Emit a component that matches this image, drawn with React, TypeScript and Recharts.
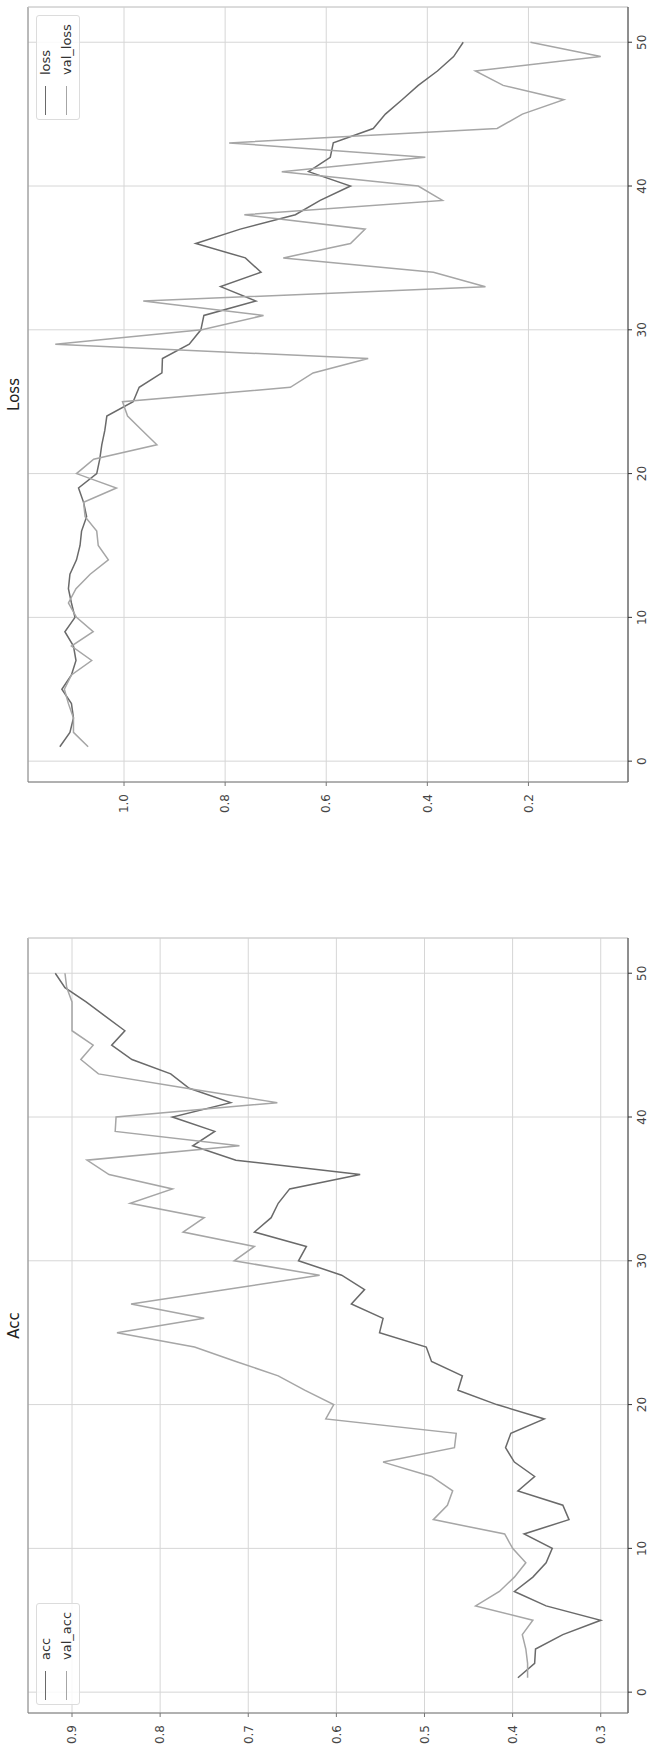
import React from 'react';
import { LineChart, Line, XAxis, YAxis, CartesianGrid, ReferenceLine } from 'recharts';

// training history, epochs 1..50
const epochTicks = [0, 10, 20, 30, 40, 50];
const accTicks = [0.3, 0.4, 0.5, 0.6, 0.7, 0.8, 0.9];
const lossTicks = [0.2, 0.4, 0.6, 0.8, 1.0];

const acc = [
  0.394, 0.375, 0.374, 0.343, 0.3, 0.362, 0.398, 0.377, 0.362, 0.355,
  0.387, 0.336, 0.343, 0.394, 0.375, 0.398, 0.408, 0.402, 0.364, 0.418,
  0.462, 0.457, 0.492, 0.498, 0.551, 0.547, 0.583, 0.568, 0.594, 0.643,
  0.634, 0.693, 0.674, 0.666, 0.653, 0.573, 0.714, 0.763, 0.738, 0.786,
  0.72, 0.767, 0.788, 0.832, 0.855, 0.84, 0.862, 0.884, 0.908, 0.919,
];
const valAcc = [
  0.383, 0.383, 0.385, 0.389, 0.377, 0.442, 0.415, 0.398, 0.385, 0.4,
  0.409, 0.49, 0.474, 0.468, 0.492, 0.547, 0.466, 0.464, 0.612, 0.603,
  0.636, 0.666, 0.714, 0.761, 0.849, 0.75, 0.833, 0.725, 0.619, 0.716,
  0.693, 0.774, 0.75, 0.834, 0.786, 0.858, 0.883, 0.71, 0.851, 0.85,
  0.667, 0.77, 0.87, 0.89, 0.876, 0.9, 0.9, 0.9, 0.906, 0.908,
];
const loss = [
  1.127, 1.107, 1.1, 1.104, 1.123, 1.104, 1.095, 1.1, 1.117, 1.097,
  1.104, 1.11, 1.107, 1.094, 1.087, 1.084, 1.074, 1.08, 1.09, 1.054,
  1.048, 1.044, 1.038, 1.034, 0.982, 0.97, 0.925, 0.924, 0.871, 0.848,
  0.842, 0.739, 0.809, 0.729, 0.76, 0.858, 0.77, 0.661, 0.612, 0.552,
  0.635, 0.592, 0.586, 0.507, 0.483, 0.45, 0.418, 0.38, 0.348, 0.329,
];
const valLoss = [
  1.071, 1.1, 1.1, 1.11, 1.118, 1.104, 1.064, 1.104, 1.061, 1.094,
  1.11, 1.095, 1.067, 1.031, 1.051, 1.054, 1.077, 1.08, 1.015, 1.094,
  1.06, 0.935, 0.964, 0.993, 1.003, 0.671, 0.626, 0.517, 1.136, 0.846,
  0.724, 0.962, 0.285, 0.388, 0.685, 0.552, 0.523, 0.762, 0.37, 0.418,
  0.688, 0.404, 0.792, 0.262, 0.212, 0.13, 0.25, 0.305, 0.057, 0.196,
];

const FONT = '"DejaVu Sans", sans-serif';
const DARK = '#6a6a6a';
const LIGHT = '#a6a6a6';
const W = 876;
const H = 651;
const Y_AXIS_W = 30;

// matplotlib style 5% autoscale margin
function padded(values: number[]): [number, number] {
  const lo = Math.min(...values);
  const hi = Math.max(...values);
  const pad = (hi - lo) * 0.05;
  return [lo - pad, hi + pad];
}

const xDomain = padded([1, acc.length]);

interface PanelProps {
  title: string;
  names: [string, string];
  first: number[];
  second: number[];
  yTicks: number[];
  margin: { top: number; right: number; bottom: number; left: number };
  legendLeft: number;
  legendWidth: number;
}

function Panel({ title, names, first, second, yTicks, margin, legendLeft, legendWidth }: PanelProps) {
  const data = first.map((v, i) => ({ epoch: i + 1, [names[0]]: v, [names[1]]: second[i] }));
  const yDomain = padded([...first, ...second]);
  const plotLeft = margin.left + Y_AXIS_W;
  const plotWidth = W - plotLeft - margin.right;
  const tick = { fill: '#444', fontSize: 12, fontFamily: FONT };

  return (
    <div style={{ position: 'relative', width: W, height: H }}>
      <LineChart width={W} height={H} data={data} margin={margin}>
        <CartesianGrid stroke="#d6d6d6" />
        <XAxis
          dataKey="epoch"
          type="number"
          domain={xDomain}
          ticks={epochTicks}
          allowDataOverflow
          height={23}
          tickSize={4}
          tickMargin={5}
          stroke="#333"
          tick={tick}
        />
        <YAxis
          type="number"
          domain={yDomain}
          ticks={yTicks}
          allowDataOverflow
          width={Y_AXIS_W}
          tickSize={4}
          tickMargin={8}
          stroke="#777"
          tick={tick}
          tickFormatter={(v: number) => v.toFixed(1)}
        />
        <ReferenceLine y={yDomain[1]} stroke="#888" ifOverflow="visible" />
        <ReferenceLine x={xDomain[1]} stroke="#ccc" ifOverflow="visible" />
        <Line type="linear" dataKey={names[0]} stroke={DARK} strokeWidth={1.5} dot={false} isAnimationActive={false} />
        <Line type="linear" dataKey={names[1]} stroke={LIGHT} strokeWidth={1.5} dot={false} isAnimationActive={false} />
      </LineChart>

      <div
        style={{
          position: 'absolute',
          left: plotLeft,
          width: plotWidth,
          top: 6,
          textAlign: 'center',
          fontFamily: FONT,
          fontSize: 15,
          lineHeight: '16px',
          color: '#222',
        }}
      >
        {title}
      </div>

      <div
        style={{
          position: 'absolute',
          left: legendLeft,
          top: 36,
          width: legendWidth,
          height: 44,
          boxSizing: 'border-box',
          border: '1px solid #dcdcdc',
          borderRadius: 3,
          background: 'rgba(255,255,255,0.85)',
          fontFamily: FONT,
          fontSize: 13,
          color: '#333',
        }}
      >
        {names.map((n, i) => (
          <div key={n} style={{ position: 'absolute', left: 0, top: 1 + i * 21, height: 16, width: '100%' }}>
            <div
              style={{
                position: 'absolute',
                left: 4,
                top: 7,
                width: 29,
                height: 0,
                borderTop: `1.5px solid ${i === 0 ? DARK : LIGHT}`,
              }}
            />
            <span style={{ position: 'absolute', left: 44, top: 0, lineHeight: '16px' }}>{n}</span>
          </div>
        ))}
      </div>
    </div>
  );
}

export default function App() {
  return (
    <div
      style={{
        position: 'absolute',
        left: 0,
        top: 0,
        width: 1751,
        height: 651,
        background: '#fff',
        transformOrigin: '0 0',
        transform: 'translateY(1751px) rotate(-90deg)',
      }}
    >
      <div style={{ position: 'absolute', left: 0, top: 0 }}>
        <Panel
          title="Acc"
          names={['acc', 'val_acc']}
          first={acc}
          second={valAcc}
          yTicks={accTicks}
          margin={{ top: 28, right: 63, bottom: 0, left: 8 }}
          legendLeft={46}
          legendWidth={102}
        />
      </div>
      <div style={{ position: 'absolute', left: 875, top: 0 }}>
        <Panel
          title="Loss"
          names={['loss', 'val_loss']}
          first={loss}
          second={valLoss}
          yTicks={lossTicks}
          margin={{ top: 28, right: 7, bottom: 0, left: 64 }}
          legendLeft={756}
          legendWidth={105}
        />
      </div>
    </div>
  );
}
